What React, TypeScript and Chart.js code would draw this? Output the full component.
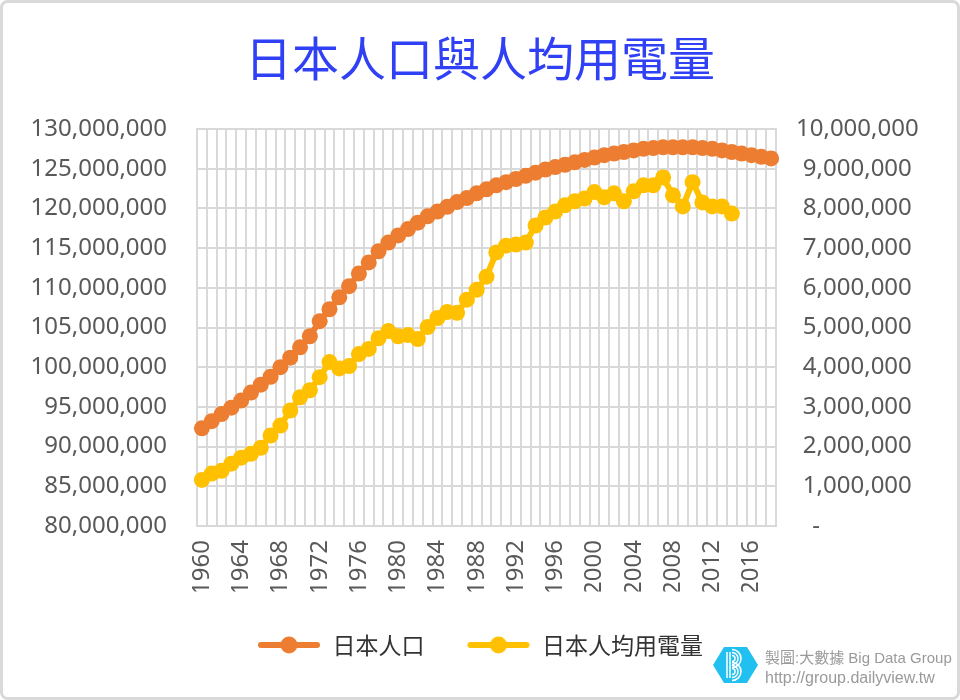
import React, { useEffect, useRef } from 'react';
import { Chart, registerables } from 'chart.js';
Chart.register(...registerables);

const TITLE = '日本人口與人均用電量';
const SERIES_POP = '日本人口';
const SERIES_ELEC = '日本人均用電量';

const years = [
  '1960','1961','1962','1963','1964','1965','1966','1967','1968','1969',
  '1970','1971','1972','1973','1974','1975','1976','1977','1978','1979',
  '1980','1981','1982','1983','1984','1985','1986','1987','1988','1989',
  '1990','1991','1992','1993','1994','1995','1996','1997','1998','1999',
  '2000','2001','2002','2003','2004','2005','2006','2007','2008','2009',
  '2010','2011','2012','2013','2014','2015','2016','2017','2018',
];

const shownYearLabels = ['1960','1964','1968','1972','1976','1980','1984','1988','1992','1996','2000','2004','2008','2012','2016'];

const population = [
  92300000, 93200000, 94100000, 94900000, 95800000, 96800000, 97800000, 98800000, 100000000, 101200000,
  102500000, 103900000, 105800000, 107300000, 108800000, 110200000, 111800000, 113200000, 114600000, 115700000,
  116600000, 117400000, 118200000, 119000000, 119600000, 120200000, 120800000, 121300000, 121900000, 122400000,
  122900000, 123300000, 123700000, 124100000, 124500000, 124900000, 125200000, 125500000, 125800000, 126100000,
  126400000, 126700000, 126900000, 127100000, 127300000, 127500000, 127600000, 127700000, 127700000, 127700000,
  127700000, 127600000, 127500000, 127300000, 127100000, 126900000, 126700000, 126500000, 126300000,
];

const electricity = [
  1160000, 1320000, 1390000, 1570000, 1720000, 1820000, 1970000, 2280000, 2530000, 2910000,
  3240000, 3420000, 3750000, 4130000, 3970000, 4030000, 4330000, 4460000, 4730000, 4910000,
  4780000, 4810000, 4710000, 5010000, 5240000, 5390000, 5370000, 5700000, 5950000, 6280000,
  6890000, 7060000, 7090000, 7140000, 7570000, 7770000, 7920000, 8080000, 8180000, 8250000,
  8410000, 8280000, 8380000, 8180000, 8430000, 8580000, 8580000, 8780000, 8330000, 8050000,
  8660000, 8150000, 8050000, 8050000, 7870000,
];

const ORANGE = '#ED7D31';
const YELLOW = '#FFC000';
const GRID = '#d9d9d9';
const TICK = '#595959';

function makeMarker(color: string) {
  const c = document.createElement('canvas');
  c.width = 64;
  c.height = 20;
  const ctx = c.getContext('2d')!;
  ctx.strokeStyle = color;
  ctx.lineWidth = 6;
  ctx.lineCap = 'round';
  ctx.beginPath();
  ctx.moveTo(4, 10);
  ctx.lineTo(60, 10);
  ctx.stroke();
  ctx.fillStyle = color;
  ctx.beginPath();
  ctx.arc(32, 10, 8.5, 0, Math.PI * 2);
  ctx.fill();
  return c;
}

const decor = {
  id: 'decor',
  afterDraw(chart: any) {
    const ctx = chart.ctx as CanvasRenderingContext2D;
    ctx.save();
    // title
    ctx.fillStyle = '#2f40f5';
    ctx.font = '47px "Noto Sans CJK TC"';
    ctx.textAlign = 'center';
    ctx.textBaseline = 'middle';
    ctx.fillText(TITLE, 480, 58);

    // watermark logo
    ctx.fillStyle = '#22c0f0';
    ctx.beginPath();
    ctx.moveTo(713, 665);
    ctx.lineTo(724, 647);
    ctx.lineTo(747, 647);
    ctx.lineTo(758, 665);
    ctx.lineTo(747, 683);
    ctx.lineTo(724, 683);
    ctx.closePath();
    ctx.fill();
    ctx.strokeStyle = '#ffffff';
    ctx.lineWidth = 1.5;
    ctx.beginPath();
    ctx.moveTo(727, 652);
    ctx.lineTo(727, 678);
    ctx.moveTo(730, 652);
    ctx.lineTo(730, 678);
    ctx.stroke();
    for (const r of [3, 6, 9]) {
      ctx.beginPath();
      ctx.arc(732, 658.5, r, -Math.PI / 2, Math.PI / 2);
      ctx.stroke();
      ctx.beginPath();
      ctx.arc(732, 671.5, r, -Math.PI / 2, Math.PI / 2);
      ctx.stroke();
    }

    // watermark text
    ctx.fillStyle = '#9a9a9a';
    ctx.textAlign = 'left';
    ctx.textBaseline = 'alphabetic';
    ctx.font = '15px "Liberation Sans", "Noto Sans CJK TC"';
    ctx.fillText('製圖:大數據 Big Data Group', 765, 663);
    ctx.font = '16px "Liberation Sans", "Noto Sans CJK TC"';
    ctx.fillText('http://group.dailyview.tw', 765, 683);

    // frame
    ctx.strokeStyle = GRID;
    ctx.lineWidth = 3;
    ctx.beginPath();
    (ctx as any).roundRect(1.5, 1.5, 957, 697, 6);
    ctx.stroke();
    ctx.restore();
  },
};

export default function App() {
  const ref = useRef<HTMLCanvasElement | null>(null);

  useEffect(() => {
    const canvas = ref.current;
    if (!canvas) return;
    const markers = [makeMarker(ORANGE), makeMarker(YELLOW)];
    const chart = new Chart(canvas, {
      type: 'line',
      data: {
        labels: years,
        datasets: [
          {
            label: SERIES_POP,
            data: population,
            yAxisID: 'y',
            borderColor: ORANGE,
            backgroundColor: ORANGE,
            borderWidth: 6,
            pointRadius: 8,
            pointHoverRadius: 8,
            pointBorderWidth: 0,
            pointBackgroundColor: ORANGE,
            tension: 0,
          },
          {
            label: SERIES_ELEC,
            data: electricity,
            yAxisID: 'y2',
            borderColor: YELLOW,
            backgroundColor: YELLOW,
            borderWidth: 6,
            pointRadius: 8,
            pointHoverRadius: 8,
            pointBorderWidth: 0,
            pointBackgroundColor: YELLOW,
            tension: 0,
          },
        ],
      },
      options: {
        responsive: false,
        animation: false,
        devicePixelRatio: 1,
        layout: { padding: { top: 129, bottom: 33.5, left: 0, right: 0 } },
        plugins: {
          title: { display: false },
          tooltip: { enabled: false },
          legend: {
            display: true,
            position: 'bottom',
            labels: {
              usePointStyle: true,
              pointStyleWidth: 64,
              padding: 42,
              color: '#333333',
              font: { size: 23, family: '"Noto Sans CJK TC"' },
              generateLabels: (ch: any) => {
                const items = (Chart.defaults.plugins.legend.labels as any).generateLabels(ch);
                items.forEach((it: any, i: number) => {
                  it.pointStyle = markers[i];
                });
                return items;
              },
            },
          },
        },
        scales: {
          x: {
            type: 'category',
            offset: true,
            grid: { color: GRID, lineWidth: 2, drawTicks: false, offset: true },
            border: { color: GRID, width: 2 },
            ticks: {
              autoSkip: false,
              minRotation: 90,
              maxRotation: 90,
              padding: 14,
              color: TICK,
              font: { size: 24, family: '"Noto Sans"' },
              callback: (_v: any, idx: number) =>
                shownYearLabels.includes(years[idx]) ? years[idx] : '',
            },
            afterFit: (s: any) => {
              s.height = 65.5;
            },
          },
          y: {
            position: 'left',
            min: 80000000,
            max: 130000000,
            grid: { color: GRID, lineWidth: 2, drawTicks: false },
            border: { color: GRID, width: 2 },
            ticks: {
              stepSize: 5000000,
              padding: 30,
              color: TICK,
              font: { size: 24, family: '"Noto Sans"' },
              callback: (v: any) => Number(v).toLocaleString('en-US'),
            },
            afterFit: (s: any) => {
              s.width = 197;
            },
          },
          y2: {
            position: 'right',
            min: 0,
            max: 10000000,
            grid: { display: false, drawTicks: false },
            border: { color: GRID, width: 2 },
            ticks: {
              stepSize: 1000000,
              padding: 20,
              crossAlign: 'center',
              color: TICK,
              font: { size: 24, family: '"Noto Sans"' },
              callback: (v: any) =>
                Number(v) === 0 ? '-' + '\u2007\u2007\u2007\u2007\u2007\u2007' : Number(v).toLocaleString('en-US'),
            },
            afterFit: (s: any) => {
              s.width = 184;
            },
          },
        },
      },
      plugins: [decor],
    } as any);
    return () => chart.destroy();
  }, []);

  return (
    <div style={{ position: 'absolute', left: 0, top: 0, width: 960, height: 700, background: '#ffffff' }}>
      <canvas ref={ref} width={960} height={700} style={{ width: 960, height: 700, display: 'block' }} />
    </div>
  );
}
